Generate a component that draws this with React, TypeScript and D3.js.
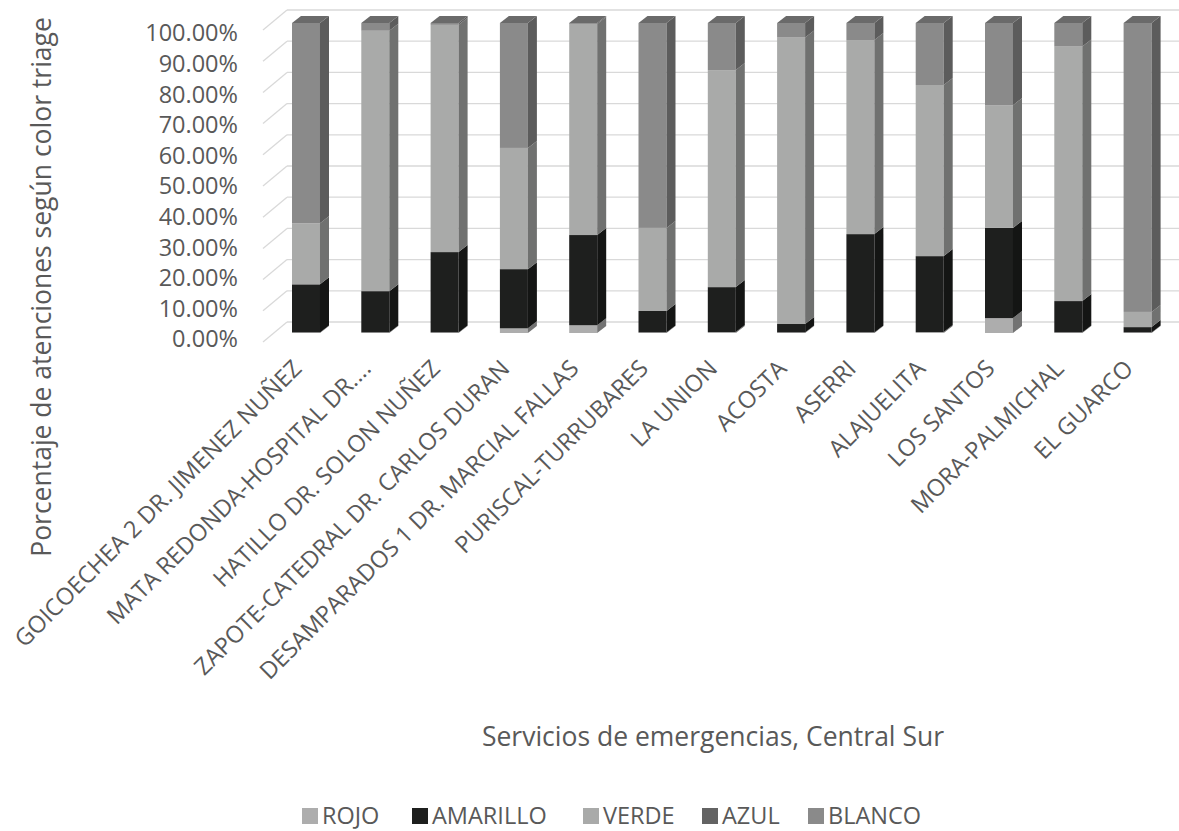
import React from 'react';
import * as d3 from 'd3';

const categories = [
  'GOICOECHEA 2 DR. JIMENEZ NUÑEZ',
  'MATA REDONDA-HOSPITAL DR....',
  'HATILLO DR. SOLON NUÑEZ',
  'ZAPOTE-CATEDRAL DR. CARLOS DURAN',
  'DESAMPARADOS 1 DR. MARCIAL FALLAS',
  'PURISCAL-TURRUBARES',
  'LA UNION',
  'ACOSTA',
  'ASERRI',
  'ALAJUELITA',
  'LOS SANTOS',
  'MORA-PALMICHAL',
  'EL GUARCO',
];

// percentages
const rojo = [0.2, 0.2, 0.2, 1.5, 2.5, 0.2, 0.3, 0.2, 0.2, 0.3, 4.8, 0.2, 0.2];
const amarillo = [15.5, 13.3, 25.9, 19.1, 29.1, 6.9, 14.5, 2.7, 31.7, 24.5, 29.1, 10.1, 1.7];
const verde = [19.7, 84.0, 73.3, 39.1, 68.1, 26.8, 70.0, 92.4, 62.6, 55.2, 39.6, 82.1, 4.9];
const azul = [0, 0, 0, 0, 0, 0, 0, 0, 0, 0, 0, 0, 0];
const blanco = [64.6, 2.5, 0.6, 40.3, 0.3, 66.1, 15.2, 4.7, 5.5, 20.0, 26.5, 7.6, 93.2];

const seriesNames = ['ROJO', 'AMARILLO', 'VERDE', 'AZUL', 'BLANCO'];
const seriesValues = [rojo, amarillo, verde, azul, blanco];
const seriesColors = ['#adadad', '#1e1f1e', '#a9aaa9', '#636363', '#8a8a8a'];
const yTicks = [0, 0.1, 0.2, 0.3, 0.4, 0.5, 0.6, 0.7, 0.8, 0.9, 1.0];

const FONT = '"Open Sans", "DejaVu Sans", sans-serif';
const TEXT = '#595959';

export default function App() {
  const W = 1179;
  const H = 831;

  const x = d3
    .scaleBand<string>()
    .domain(categories)
    .range([271.35, 1172.25])
    .paddingInner(0.596)
    .paddingOuter(0.298);
  const yFront = d3.scaleLinear().domain([0, 1]).range([333, 23]);
  const yBack = d3.scaleLinear().domain([0, 1]).range([322, 10]);
  const yAxis = d3.scaleLinear().domain([0, 1]).range([339, 33]);
  const fmt = d3.format('.2%');

  const depthX = 9;
  const depthY = 7;
  const wallLeft = 287;
  const wallRight = 1179;
  const sideDx = -24;
  const sideDy = 20;

  const rows = categories.map((c, i) => {
    const r: any = { cat: c };
    seriesNames.forEach((s, k) => (r[s] = seriesValues[k][i] / 100));
    return r;
  });
  const stacked = d3.stack<any>().keys(seriesNames)(rows);
  const colorOf = d3.scaleOrdinal<string, string>().domain(seriesNames).range(seriesColors);

  const bw = x.bandwidth();

  const bars = categories.map((c, i) => {
    const x0 = x(c) as number;
    const x1 = x0 + bw;
    const parts: any[] = [];
    let topKey = '';
    let topVal = 0;
    stacked.forEach((layer) => {
      const d = layer[i];
      const v0 = d[0];
      const v1 = d[1];
      if (v1 - v0 <= 0) return;
      topKey = layer.key;
      topVal = v1;
      const col = d3.color(colorOf(layer.key))!;
      const side = col.darker(1.15).formatHex();
      const yt = yFront(v1);
      const yb = yFront(v0);
      parts.push(
        <g key={layer.key}>
          <rect x={x0} y={yt} width={bw} height={yb - yt} fill={colorOf(layer.key)} />
          <path
            d={`M${x1},${yt}L${x1 + depthX},${yt - depthY}L${x1 + depthX},${yb - depthY}L${x1},${yb}Z`}
            fill={side}
          />
        </g>
      );
    });
    const topCol = d3.color(colorOf(topKey))!.darker(0.75).formatHex();
    const yt = yFront(topVal);
    parts.push(
      <path
        key="top"
        d={`M${x0},${yt}L${x0 + depthX},${yt - depthY}L${x1 + depthX},${yt - depthY}L${x1},${yt}Z`}
        fill={topCol}
      />
    );
    return <g key={c}>{parts}</g>;
  });

  const legendX = [302, 412, 583, 702, 808];

  return (
    <svg
      width={W}
      height={H}
      style={{ position: 'absolute', left: 0, top: 0, background: '#fff' }}
      fontFamily={FONT}
    >
      <rect x={0} y={0} width={W} height={H} fill="#fff" />
      {/* gridlines on back and side wall */}
      <g stroke="#d9d9d9" strokeWidth={1.3} fill="none">
        {yTicks.map((t) => (
          <g key={t}>
            <line x1={wallLeft} x2={wallRight} y1={yBack(t)} y2={yBack(t)} />
            <line x1={wallLeft} x2={wallLeft + sideDx} y1={yBack(t)} y2={yBack(t) + sideDy} />
          </g>
        ))}
      </g>
      {/* tick labels */}
      <g fontSize={23.5} fill={TEXT} textAnchor="end">
        {yTicks.map((t) => (
          <text key={t} x={238} y={yAxis(t)} dy="0.36em">
            {fmt(t)}
          </text>
        ))}
      </g>
      {/* bars */}
      {bars}
      {/* category labels */}
      <g fontSize={23.5} fill={TEXT} textAnchor="end">
        {categories.map((c) => {
          const cx = (x(c) as number) + bw / 2 - 3;
          const cy = 370;
          return (
            <text key={c} transform={`translate(${cx},${cy}) rotate(-45)`}>
              {c}
            </text>
          );
        })}
      </g>
      {/* axis titles */}
      <text
        transform={`translate(51,${287}) rotate(-90)`}
        textAnchor="middle"
        fontSize={26.5}
        fill={TEXT}
      >
        Porcentaje de atenciones según color triage
      </text>
      <text x={713} y={746} textAnchor="middle" fontSize={26.5} fill={TEXT}>
        Servicios de emergencias, Central Sur
      </text>
      {/* legend */}
      <g fontSize={23.5} fill={TEXT}>
        {seriesNames.map((s, k) => (
          <g key={s}>
            <rect x={legendX[k]} y={808} width={16} height={16} fill={colorOf(s)} />
            <text x={legendX[k] + 20} y={824}>
              {s}
            </text>
          </g>
        ))}
      </g>
    </svg>
  );
}
